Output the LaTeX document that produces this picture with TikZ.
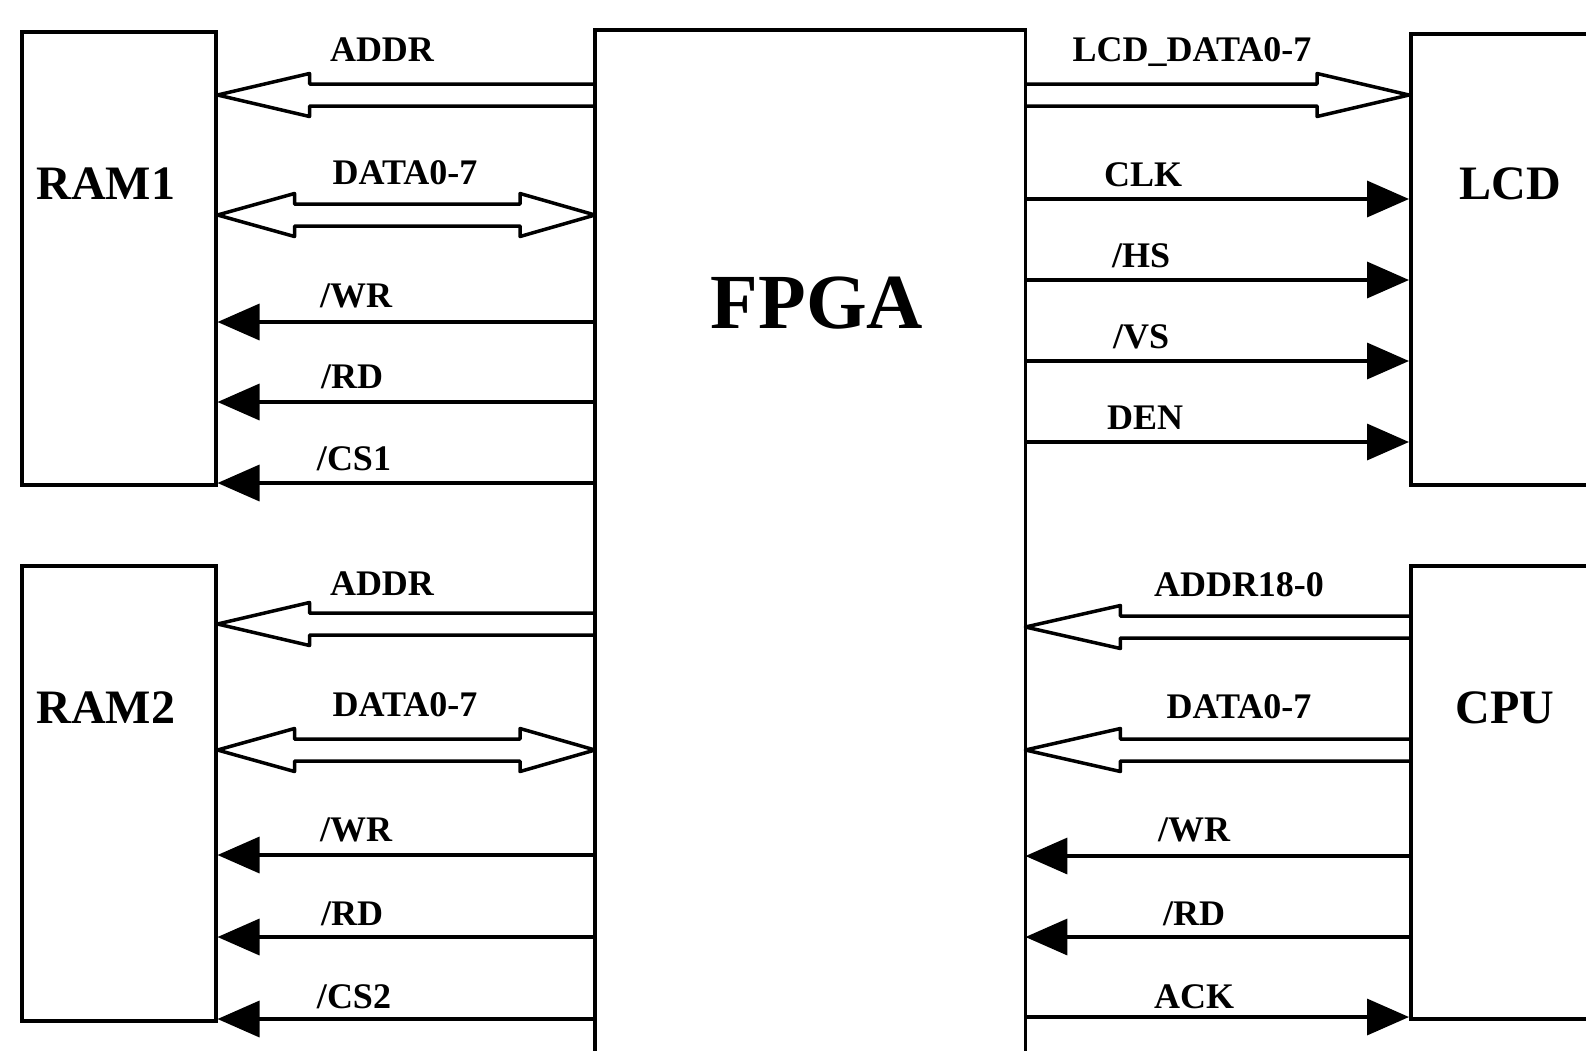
\documentclass[tikz,border=0pt]{standalone}
\usepackage{fontspec}
\setmainfont{Liberation Serif}
\usetikzlibrary{arrows.meta,calc}
\tikzset{
  blk/.style={draw, line width=3.5pt, inner sep=0pt, anchor=north west},
  lbl/.style={inner sep=0pt, anchor=base, font=\fontsize{36}{40}\selectfont\bfseries},
  big/.style={inner sep=0pt, anchor=base, font=\fontsize{48}{52}\selectfont\bfseries},
  sig/.style={line width=3.5pt, -{Triangle[length=42pt,width=36pt]}},
  bus/.style={line width=3.5pt, line join=round},
}
\newcommand\busL[3]{\draw[bus] let \p1=(#1), \p2=(#2) in
  (\x2,\y1+11pt) -- (\x1+#3,\y1+11pt) -- (\x1+#3,\y1+21.5pt) -- (\x1,\y1)
  -- (\x1+#3,\y1-21.5pt) -- (\x1+#3,\y1-11pt) -- (\x2,\y1-11pt);}
\newcommand\busR[3]{\draw[bus] let \p1=(#1), \p2=(#2) in
  (\x1,\y2+11pt) -- (\x2-#3,\y2+11pt) -- (\x2-#3,\y2+21.5pt) -- (\x2,\y2)
  -- (\x2-#3,\y2-21.5pt) -- (\x2-#3,\y2-11pt) -- (\x1,\y2-11pt);}
\newcommand\busLR[4]{\draw[bus] let \p1=(#1), \p2=(#2) in
  (\x1,\y1) -- (\x1+#3,\y1+21.5pt) -- (\x1+#3,\y1+11pt) -- (\x2-#4,\y1+11pt)
  -- (\x2-#4,\y1+21.5pt) -- (\x2,\y1) -- (\x2-#4,\y1-21.5pt) -- (\x2-#4,\y1-11pt)
  -- (\x1+#3,\y1-11pt) -- (\x1+#3,\y1-21.5pt) -- cycle;}
\begin{document}
\begin{tikzpicture}[x=1pt,y=-1pt]
\useasboundingbox (0,0) rectangle (1586,1050);
\clip (0,0) rectangle (1586,1050);
% boxes
\node[blk, minimum width=194pt, minimum height=453pt] (ram1) at (20,30) {};
\node[blk, minimum width=194pt, minimum height=455pt] (ram2) at (20,564) {};
\node[inner sep=0pt, anchor=north west, minimum width=430pt, minimum height=1040pt] (fpga) at (595,30) {};
\draw[line width=3.5pt] (fpga.south west) -- (fpga.north west) -- (fpga.north east) -- (fpga.south east);
\node[blk, minimum width=260pt, minimum height=451pt] (lcd) at (1409,32) {};
\node[blk, minimum width=260pt, minimum height=453pt] (cpu) at (1409,564) {};
% box titles
\node[big] (ram1t) at (106,199) {RAM1};
\node[big] (ram2t) at (106,723) {RAM2};
\node[big] (lcdt) at (1510,199) {LCD};
\node[big] (cput) at (1505,723) {CPU};
\node[inner sep=0pt, anchor=base, font=\fontsize{78}{80}\selectfont\bfseries] (fpgat) at (817,328) {FPGA};
% left upper
\busL{ram1.east |- 0,95}{fpga.west |- 0,95}{92pt}
\busLR{ram1.east |- 0,215}{fpga.west |- 0,215}{77pt}{75pt}
\draw[sig] (fpga.west |- 0,322) -- (ram1.east |- 0,322);
\draw[sig] (fpga.west |- 0,402) -- (ram1.east |- 0,402);
\draw[sig] (fpga.west |- 0,483) -- (ram1.east |- 0,483);
\node[lbl] (a1) at (382,61) {ADDR};
\node[lbl] (d1) at (405,184) {DATA0-7};
\node[lbl] (w1) at (356,307) {/WR};
\node[lbl] (r1) at (352,388) {/RD};
\node[lbl] (c1) at (354,470) {/CS1};
% left lower
\busL{ram2.east |- 0,624}{fpga.west |- 0,624}{92pt}
\busLR{ram2.east |- 0,750}{fpga.west |- 0,750}{77pt}{75pt}
\draw[sig] (fpga.west |- 0,855) -- (ram2.east |- 0,855);
\draw[sig] (fpga.west |- 0,937) -- (ram2.east |- 0,937);
\draw[sig] (fpga.west |- 0,1019) -- (ram2.east |- 0,1019);
\node[lbl] (a2) at (382,595) {ADDR};
\node[lbl] (d2) at (405,716) {DATA0-7};
\node[lbl] (w2) at (356,841) {/WR};
\node[lbl] (r2) at (352,925) {/RD};
\node[lbl] (c2) at (354,1008) {/CS2};
% right upper
\busR{fpga.east |- 0,95}{lcd.west |- 0,95}{92pt}
\draw[sig] (fpga.east |- 0,199) -- (lcd.west |- 0,199);
\draw[sig] (fpga.east |- 0,280) -- (lcd.west |- 0,280);
\draw[sig] (fpga.east |- 0,361) -- (lcd.west |- 0,361);
\draw[sig] (fpga.east |- 0,442) -- (lcd.west |- 0,442);
\node[lbl] (ld) at (1192,61) {LCD\_DATA0-7};
\node[lbl] (clk) at (1143,186) {CLK};
\node[lbl] (hs) at (1141,267) {/HS};
\node[lbl] (vs) at (1141,348) {/VS};
\node[lbl] (den) at (1145,429) {DEN};
% right lower
\busL{fpga.east |- 0,627}{cpu.west |- 0,627}{95pt}
\busL{fpga.east |- 0,750}{cpu.west |- 0,750}{95pt}
\draw[sig] (cpu.west |- 0,856) -- (fpga.east |- 0,856);
\draw[sig] (cpu.west |- 0,937) -- (fpga.east |- 0,937);
\draw[sig] (fpga.east |- 0,1017) -- (cpu.west |- 0,1017);
\node[lbl] (a3) at (1239,596) {ADDR18-0};
\node[lbl] (d3) at (1239,718) {DATA0-7};
\node[lbl] (w3) at (1194,841) {/WR};
\node[lbl] (r3) at (1194,925) {/RD};
\node[lbl] (ack) at (1194,1008) {ACK};
\end{tikzpicture}
\end{document}
